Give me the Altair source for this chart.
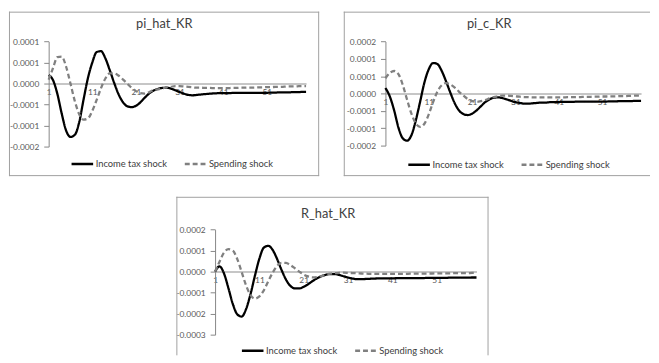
import altair as alt
import pandas as pd

FONT = "Lato"

periods = list(range(1, 61))
x_tick_values = [1, 11, 21, 31, 41, 51]
series_names = ["Income tax shock", "Spending shock"]
line_colors = ["#000000", "#808080"]

# values below are in units of 1e-5
pi_hat_income = [2.0, 0.8, -2.5, -7.2, -11.2, -12.7, -12.2, -9.2, -3.8, 1.3,
                 5.0, 7.5, 7.7, 6.0, 3.2, 0.2, -2.5, -4.4, -5.4, -5.6,
                 -5.3, -4.5, -3.4, -2.4, -1.7, -1.3, -1.05, -1.0, -1.2, -1.6,
                 -2.0, -2.4, -2.7, -2.8, -2.7, -2.6, -2.5, -2.4, -2.35, -2.3,
                 -2.3, -2.3, -2.25, -2.25, -2.2, -2.2, -2.2, -2.2, -2.2, -2.2,
                 -2.2, -2.15, -2.15, -2.1, -2.1, -2.1, -2.05, -2.05, -2.0, -2.0]
pi_hat_spending = [0.9, 3.7, 6.3, 6.4, 4.0, 0.0, -4.2, -7.3, -8.6, -8.3,
                   -6.5, -3.9, -1.1, 1.2, 2.4, 2.4, 1.9, 1.0, 0.0, -1.0,
                   -1.8, -2.3, -2.4, -2.1, -1.6, -1.4, -1.2, -0.9, -0.8, -0.6,
                   -0.6, -0.7, -0.8, -0.9, -1.0, -1.0, -1.05, -1.05, -1.1, -1.1,
                   -1.1, -1.1, -1.05, -1.05, -1.0, -1.0, -0.95, -0.95, -0.9, -0.9,
                   -0.85, -0.85, -0.8, -0.8, -0.75, -0.7, -0.7, -0.65, -0.6, -0.6]

pi_c_income = [1.6, -0.8, -4.8, -9.8, -12.9, -13.6, -12.0, -7.8, -2.4, 3.2,
               7.0, 8.8, 8.5, 6.5, 3.5, 0.2, -2.8, -4.9, -5.9, -6.2,
               -5.8, -4.9, -3.7, -2.5, -1.7, -1.2, -1.1, -1.3, -1.7, -2.1,
               -2.5, -2.7, -2.9, -2.9, -2.8, -2.7, -2.6, -2.6, -2.5, -2.5,
               -2.45, -2.4, -2.4, -2.4, -2.35, -2.35, -2.35, -2.3, -2.3, -2.3,
               -2.3, -2.3, -2.25, -2.25, -2.2, -2.2, -2.15, -2.15, -2.1, -2.1]
pi_c_spending = [4.4, 5.9, 6.5, 5.6, 2.5, -1.8, -5.8, -8.6, -9.6, -8.7,
                 -6.0, -2.5, 0.6, 2.4, 3.0, 2.6, 1.7, 0.5, -0.6, -1.6,
                 -2.2, -2.4, -2.2, -1.9, -1.4, -1.0, -0.8, -0.6, -0.6, -0.7,
                 -0.8, -0.9, -1.0, -1.05, -1.1, -1.1, -1.1, -1.1, -1.1, -1.1,
                 -1.1, -1.1, -1.05, -1.05, -1.0, -1.0, -0.95, -0.95, -0.9, -0.9,
                 -0.85, -0.85, -0.8, -0.8, -0.75, -0.75, -0.7, -0.65, -0.6, -0.6]

r_hat_income = [0.0, 2.5, -0.8, -7.8, -15.4, -20.3, -21.4, -17.8, -10.7, -1.9,
                6.2, 11.4, 12.3, 10.3, 6.0, 0.8, -3.8, -6.8, -8.0, -8.0,
                -7.2, -6.0, -4.5, -3.2, -2.2, -1.5, -1.15, -1.15, -1.6, -2.2,
                -2.8, -3.3, -3.6, -3.6, -3.5, -3.4, -3.3, -3.25, -3.2, -3.2,
                -3.2, -3.15, -3.15, -3.1, -3.1, -3.1, -3.05, -3.05, -3.0, -3.0,
                -3.0, -2.95, -2.95, -2.9, -2.9, -2.9, -2.85, -2.85, -2.8, -2.8]
r_hat_spending = [0.0, 4.7, 9.0, 10.7, 10.0, 6.0, -0.2, -6.6, -11.2, -12.8,
                  -11.8, -8.9, -4.6, -0.5, 2.7, 4.2, 4.1, 3.1, 1.6, 0.0,
                  -1.4, -2.3, -2.7, -2.6, -2.1, -1.5, -1.0, -0.7, -0.55, -0.5,
                  -0.6, -0.7, -0.8, -0.9, -1.0, -1.05, -1.1, -1.1, -1.1, -1.1,
                  -1.1, -1.1, -1.05, -1.05, -1.0, -1.0, -0.95, -0.95, -0.9, -0.9,
                  -0.85, -0.85, -0.8, -0.8, -0.75, -0.75, -0.7, -0.7, -0.65, -0.65]

y_ticks_1 = [-0.00015, -0.0001, -0.00005, 0.0, 0.00005, 0.0001]
y_ticks_2 = [-0.00015, -0.0001, -0.00005, 0.0, 0.00005, 0.0001, 0.00015]
y_ticks_3 = [-0.0003, -0.0002, -0.0001, 0.0, 0.0001, 0.0002]

LABEL_EXPR = "(datum.value < -1e-9 ? '-' : '') + format(abs(datum.value) + 1e-12, '.4f')"
BORDER = "#a0a0a0"


def frame_side(x1, x2, y1, y2):
    return alt.Chart(pd.DataFrame({"f": [0]})).mark_rule(
        color=BORDER, strokeWidth=1
    ).encode(x=alt.value(x1), x2=alt.value(x2), y=alt.value(y1), y2=alt.value(y2))


def panel(title, income, spending, y_domain, y_ticks, x_range, y_range,
          title_xy, legend_xy, w, h, sides):
    df = pd.DataFrame({
        "period": periods * 2,
        "value": [v * 1e-5 for v in income] + [v * 1e-5 for v in spending],
        "series": [series_names[0]] * len(periods) + [series_names[1]] * len(periods),
    })
    y0 = y_range[0] + (0 - y_domain[0]) / (y_domain[1] - y_domain[0]) * (y_range[1] - y_range[0])
    leg = alt.Legend(
        title=None, orient="none", legendX=legend_xy[0], legendY=legend_xy[1],
        direction="horizontal", symbolType="stroke", symbolSize=480,
        symbolStrokeWidth=2.5, labelFont=FONT, labelFontSize=9.5,
        labelColor="#404040", columnPadding=12, labelOffset=1, padding=0,
    )
    line = alt.Chart(df).mark_line(interpolate="monotone", strokeWidth=2.3).encode(
        x=alt.X("period:Q",
                scale=alt.Scale(domain=[1, 60], range=x_range, nice=False, zero=False),
                axis=alt.Axis(values=x_tick_values, format="d", orient="bottom",
                              offset=y0 - h, ticks=False, tickSize=0, labelFlush=False,
                              domainColor="#b3b3b3", domainWidth=1.5,
                              labelFont=FONT, labelFontSize=8.5, labelColor="#595959",
                              labelPadding=4, grid=False, title=None)),
        y=alt.Y("value:Q",
                scale=alt.Scale(domain=y_domain, range=y_range, nice=False, zero=False),
                axis=alt.Axis(values=y_ticks, labelExpr=LABEL_EXPR, orient="left",
                              offset=-x_range[0], domainColor="#868686",
                              tickColor="#868686", tickSize=5, labelPadding=5,
                              labelFont=FONT, labelFontSize=8.5, labelColor="#595959",
                              grid=False, title=None)),
        color=alt.Color("series:N",
                        scale=alt.Scale(domain=series_names, range=line_colors),
                        legend=leg),
        strokeDash=alt.StrokeDash("series:N",
                                  scale=alt.Scale(domain=series_names, range=[[1, 0], [5, 3]]),
                                  legend=leg),
    )
    ttl = alt.Chart(pd.DataFrame({"t": [title]})).mark_text(
        font=FONT, fontSize=13, color="#404040", baseline="middle", align="center"
    ).encode(text="t:N", x=alt.value(title_xy[0]), y=alt.value(title_xy[1]))
    frame_layers = []
    if "top" in sides:
        frame_layers.append(frame_side(0, w, 0.5, 0.5))
    if "bottom" in sides:
        frame_layers.append(frame_side(0, w, h - 0.5, h - 0.5))
    if "left" in sides:
        frame_layers.append(frame_side(0.5, 0.5, 0, h))
    if "right" in sides:
        frame_layers.append(frame_side(w - 0.5, w - 0.5, 0, h))
    return alt.layer(*frame_layers, line, ttl).properties(
        width=w, height=h,
        view=alt.ViewBackground(stroke="transparent"),
    )


p1 = panel("pi_hat_KR", pi_hat_income, pi_hat_spending,
           [-0.00015, 0.0001], y_ticks_1, [40.3, 301.7], [137, 30.3],
           (157.8, 12.5), (62, 142), 315, 167, ["top", "bottom", "left", "right"])
p2 = panel("pi_c_KR", pi_c_income, pi_c_spending,
           [-0.00015, 0.00015], y_ticks_2, [42.3, 301.9], [136, 30.3],
           (147.7, 12.5), (64, 142.7), 311, 167, ["top", "bottom", "left"])
p3 = panel("R_hat_KR", r_hat_income, r_hat_spending,
           [-0.0003, 0.0002], y_ticks_3, [39.3, 304.8], [140, 33.3],
           (154, 17.7), (65, 143.5), 317, 161, ["top", "left", "right"])

spacer = alt.Chart(pd.DataFrame({"a": [0]})).mark_point(opacity=0, size=1).encode(
    x=alt.value(5), y=alt.value(5)
).properties(width=167, height=161, view=alt.ViewBackground(stroke="transparent"))

resolve_s = dict(x="independent", y="independent", color="independent",
                 strokeDash="independent")
resolve_l = dict(color="independent", strokeDash="independent")

top = alt.hconcat(p1, p2, spacing=23).resolve_scale(**resolve_s).resolve_legend(**resolve_l).resolve_axis(x="independent", y="independent")
bottom = alt.hconcat(spacer, p3, spacing=0).resolve_scale(**resolve_s).resolve_legend(**resolve_l).resolve_axis(x="independent", y="independent")

chart = alt.vconcat(top, bottom, spacing=19).resolve_scale(**resolve_s).resolve_legend(**resolve_l).resolve_axis(
    x="independent", y="independent"
).properties(padding=0, background="white")

chart.save("out.html", embed_options={"renderer": "svg", "actions": False})
